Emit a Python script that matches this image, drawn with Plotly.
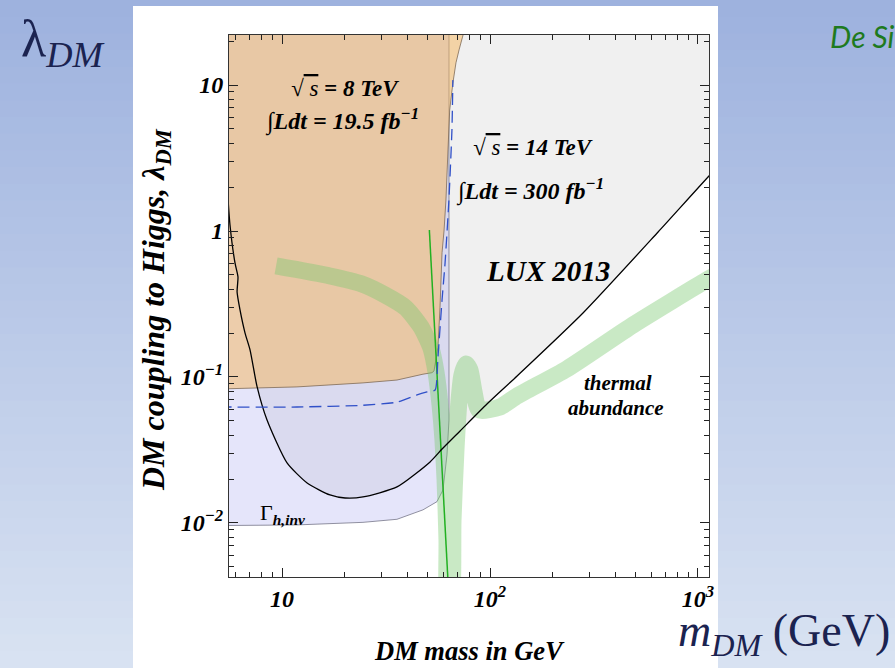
import plotly.graph_objects as go

# ---------------- data (m_DM in GeV, lambda_DM) ----------------
# LUX 2013 direct-detection bound
lux_mass = [5.45, 5.62, 5.94, 6.14, 6.08, 6.28, 6.64, 7.02, 7.59, 8.47, 10.57, 13.2, 17.0, 20.1,
            24.5, 35.7, 51.5, 58.8, 71.8, 96.7, 135, 280, 643, 1142, 1250]
lux_lambda = [2.0, 1.10, 0.604, 0.484, 0.382, 0.288, 0.200, 0.153, 0.0855, 0.0507, 0.0258, 0.0188,
              0.01556, 0.01483, 0.01507, 0.01766, 0.0262, 0.0321, 0.0427, 0.0653, 0.1016, 0.2745,
              0.984, 2.42, 2.75]

# 8 TeV, 19.5 fb^-1 exclusion (closed contour)
lhc8_mass = [5.0, 11.8, 24.5, 35.7, 47.6, 52.6, 53.8, 56.2, 57.5, 58.8, 60.1, 61.4, 62.8, 64.0,
             66.3, 68.6, 71.0, 74.2, 80.0, 5.0]
lhc8_lambda = [0.0828, 0.0855, 0.0911, 0.0953, 0.1045, 0.107, 0.110, 0.16, 0.30, 0.71, 1.0, 1.63,
               3.59, 6.74, 10.3, 14.2, 17.4, 22.0, 30.0, 30.0]

# invisible Higgs width region (closed contour)
ginv_mass = [5.0, 11.8, 24.5, 35.7, 47.6, 55.6, 59.4, 60.8, 62.1, 63.5, 63.5, 5.0]
ginv_lambda = [0.0096, 0.0097, 0.0101, 0.0106, 0.0123, 0.0140, 0.0168, 0.0220, 0.0292, 0.0507,
               40.0, 40.0]

# 14 TeV, 300 fb^-1 projection
lhc14_mass = [5.0, 11.8, 24.5, 35.7, 44.6, 49.8, 54.5, 56.2, 58.8, 60.8, 63.4, 65.6, 66.3]
lhc14_lambda = [0.0623, 0.0623, 0.064, 0.0672, 0.0755, 0.079, 0.0815, 0.137, 0.337, 0.604, 1.6,
                4.9, 10.8]

# thermal relic abundance band (centre line)
thermal_mass = [9.36, 17.0, 24.2, 31.3, 39.4, 46.6, 52.0, 55.0, 57.5, 59.4, 60.8, 62.1, 62.8,
                64.9, 66.4, 68.6, 71.0, 73.3, 76.7, 80.1, 83.8, 88.5, 111.7, 135, 234, 487, 1104, 1221]
thermal_lambda = [0.576, 0.492, 0.4335, 0.3645, 0.297, 0.220, 0.158, 0.108, 0.0643, 0.037, 0.0197,
                  0.00765, 0.00297, 0.00297, 0.0105, 0.0316, 0.0696, 0.1032, 0.1227, 0.1117, 0.079,
                  0.0594, 0.0623, 0.0741, 0.1135, 0.227, 0.462, 0.4995]

# m_h / 2 resonance line
reson_mass = [51.1, 63.5]
reson_lambda = [1.016, 0.00297]

LAMBDA_TOP = 40.0

x_ticks = [10, 100, 1000]
x_ticktext = ["10", "10<sup>2</sup>", "10<sup>3</sup>"]
y_ticks = [0.01, 0.1, 1, 10]
y_ticktext = ["10<sup>\u22122</sup>", "10<sup>\u22121</sup>", "1", "10"]
x_minor = [k * 10.0 ** e for e in range(0, 4) for k in range(2, 10)]
y_minor = [k * 10.0 ** e for e in range(-3, 2) for k in range(2, 10)]

X_RANGE = [0.745, 3.053]
Y_RANGE = [-2.370, 1.3425]

# ---------------- page geometry (pixels) ----------------
W, H = 895, 668
L, R, T, B = 229, 709, 35, 577


def px(x, y):
    return (x - L) / (R - L), (B - y) / (B - T)


SERIF = "Liberation Serif"

fig = go.Figure()

# LUX excluded region (above the bound)
fig.add_trace(go.Scatter(x=lux_mass + [lux_mass[-1], lux_mass[0]],
                         y=lux_lambda + [LAMBDA_TOP, LAMBDA_TOP],
                         fill="toself", mode="none",
                         fillcolor="rgba(128,128,128,0.12)", hoverinfo="skip"))
# invisible width region
fig.add_trace(go.Scatter(x=ginv_mass, y=ginv_lambda, fill="toself", mode="lines",
                         line=dict(color="rgba(110,110,130,0.75)", width=1),
                         fillcolor="rgba(170,170,240,0.30)", hoverinfo="skip"))
# 8 TeV region
fig.add_trace(go.Scatter(x=lhc8_mass, y=lhc8_lambda, fill="toself", mode="lines",
                         line=dict(color="rgba(120,100,80,0.75)", width=1),
                         fillcolor="rgba(245,182,92,0.50)", hoverinfo="skip"))
# thermal abundance band
fig.add_trace(go.Scatter(x=thermal_mass, y=thermal_lambda, mode="lines",
                         line=dict(color="rgba(120,200,110,0.40)", width=17,
                                   shape="spline", smoothing=0.6),
                         hoverinfo="skip"))
# the line traces sit on the overlay axes that carry the extra tick sets
# resonance line
fig.add_trace(go.Scatter(x=reson_mass, y=reson_lambda, mode="lines", xaxis="x2", yaxis="y2",
                         line=dict(color="#22B022", width=1.5), hoverinfo="skip"))
# LUX bound
fig.add_trace(go.Scatter(x=lux_mass, y=lux_lambda, mode="lines", xaxis="x3", yaxis="y3",
                         line=dict(color="black", width=1.3, shape="spline", smoothing=0.6),
                         hoverinfo="skip"))
# 14 TeV projection
fig.add_trace(go.Scatter(x=lhc14_mass, y=lhc14_lambda, mode="lines", xaxis="x4", yaxis="y4",
                         line=dict(color="#3050C8", width=1.3, dash="12px,6px",
                                   shape="spline", smoothing=0.5),
                         hoverinfo="skip"))

# ---------------- slide background ----------------
shapes = []
top_c = (158, 178, 222)
bot_c = (216, 226, 242)
n = 40
for i in range(n):
    t = i / (n - 1)
    c = tuple(int(round(top_c[k] + (bot_c[k] - top_c[k]) * t)) for k in range(3))
    y0 = i * H / n
    y1 = (i + 1) * H / n + 1
    x0p, y0p = px(0, y0)
    x1p, y1p = px(W, y1)
    shapes.append(dict(type="rect", xref="paper", yref="paper", x0=x0p, x1=x1p, y0=y0p, y1=y1p,
                       fillcolor="rgb(%d,%d,%d)" % c, line=dict(width=0), layer="below"))
wx0, wy0 = px(133, 6)
wx1, wy1 = px(718, H + 2)
shapes.append(dict(type="rect", xref="paper", yref="paper", x0=wx0, x1=wx1, y0=wy1, y1=wy0,
                   fillcolor="white", line=dict(width=0), layer="below"))

# ---------------- text ----------------
ann = []


def label(x, y, text, size, color="black", family=SERIF, weight="bold", style="italic",
          xanchor="center", **kw):
    xp, yp = px(x, y)
    ann.append(dict(x=xp, y=yp, xref="paper", yref="paper", text=text, showarrow=False,
                    xanchor=xanchor, yanchor="middle",
                    font=dict(family=family, size=size, color=color, weight=weight, style=style),
                    **kw))


SQRT_S = "\u221a<span style='font-weight:normal;text-decoration:overline'> s</span>"
label(345, 88, SQRT_S + " = 8 TeV", 23)
label(342, 120, "\u222bLdt = 19.5 fb<sup>\u22121</sup>", 24)
label(533, 148, SQRT_S + " = 14 TeV", 23)
label(530, 190, "\u222bLdt = 300 fb<sup>\u22121</sup>", 24)
label(548, 271, "LUX 2013", 29)
label(618, 383, "thermal", 21)
label(616, 408, "abundance", 21)
label(282, 514, "\u0393<sub><b><i>h,inv</i></b></sub>", 22, weight="normal", style="normal")

# axis titles
label(469, 651, "DM mass in GeV", 26.5)
label(155, 310, "DM coupling to Higgs, \u03bb<sub>DM</sub>", 32, textangle=-90)

# slide text
label(62, 42, "\u03bb<sub><i>DM</i></sub>", 52, color="#1B2350", weight="normal", style="normal")
label(892, 634, "<i>m</i><sub><i>DM</i></sub> (GeV)", 46, color="#1B2350", weight="normal",
      style="normal", xanchor="right")
label(828, 36, "De Si", 30, color="#1E7A1E", family="Lato", weight="normal", xanchor="left")

# ---------------- axes: frame with inside major + minor ticks on all four sides ----------------
TICK = "#222"
tick_font = dict(family=SERIF, size=24, color="black", weight="bold", style="italic")
base = dict(type="log", tickmode="array", ticks="inside", tickwidth=1, tickcolor=TICK,
            linecolor="#333", linewidth=1, showgrid=False, zeroline=False)
MAJ, MIN = 9, 5

fig.update_layout(
    width=W, height=H,
    margin=dict(l=L, r=W - R, t=T, b=H - B, pad=0),
    paper_bgcolor="rgb(158,178,222)",
    plot_bgcolor="rgba(0,0,0,0)",
    showlegend=False,
    shapes=shapes,
    annotations=ann,
    # bottom / left: labelled major ticks
    xaxis=dict(range=X_RANGE, tickvals=x_ticks, ticktext=x_ticktext, ticklen=MAJ,
               showline=True, tickfont=tick_font, **base),
    yaxis=dict(range=Y_RANGE, tickvals=y_ticks, ticktext=y_ticktext, ticklen=MAJ,
               showline=True, tickfont=tick_font, **base),
    # bottom / left minor ticks
    xaxis2=dict(range=X_RANGE, tickvals=x_minor, overlaying="x", anchor="y2", side="bottom",
                ticklen=MIN, showline=False, showticklabels=False, **base),
    yaxis2=dict(range=Y_RANGE, tickvals=y_minor, overlaying="y", anchor="x2", side="left",
                ticklen=MIN, showline=False, showticklabels=False, **base),
    # top / right major ticks
    xaxis3=dict(range=X_RANGE, tickvals=x_ticks, overlaying="x", anchor="y3", side="top",
                ticklen=MAJ, showline=True, showticklabels=False, **base),
    yaxis3=dict(range=Y_RANGE, tickvals=y_ticks, overlaying="y", anchor="x3", side="right",
                ticklen=MAJ, showline=True, showticklabels=False, **base),
    # top / right minor ticks
    xaxis4=dict(range=X_RANGE, tickvals=x_minor, overlaying="x", anchor="y4", side="top",
                ticklen=MIN, showline=False, showticklabels=False, **base),
    yaxis4=dict(range=Y_RANGE, tickvals=y_minor, overlaying="y", anchor="x4", side="right",
                ticklen=MIN, showline=False, showticklabels=False, **base),
)

fig.write_html("out.html")
